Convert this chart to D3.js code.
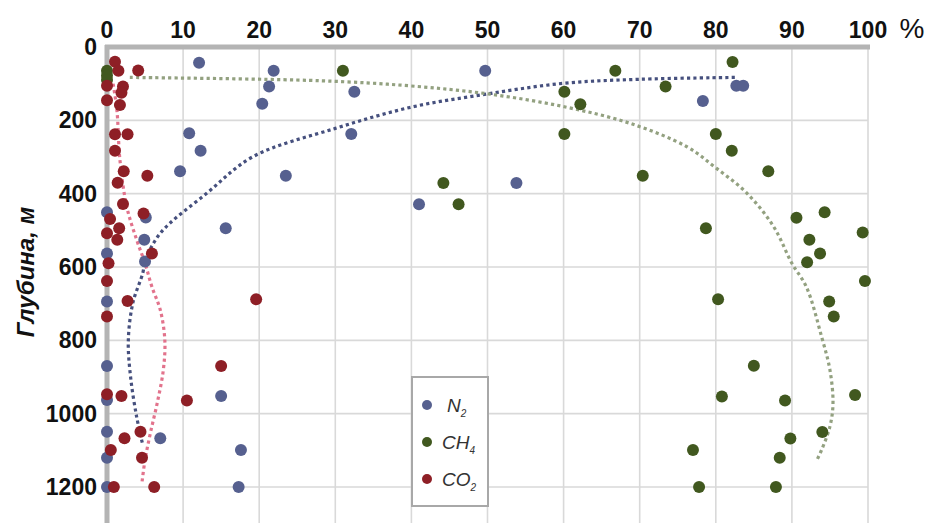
<!DOCTYPE html>
<head>
  <meta charset="utf-8">
  <script src="https://d3js.org/d3.v7.min.js"></script>
  <style>
    body { margin:0; padding:0; background:#fff; }
    text { font-family: "Liberation Sans", Arial, sans-serif; }
  </style>
</head>
<body>
  <svg id="chart" width="941" height="523"></svg>
  <script>
    // depth in m, gas share in %
    var xTicks = [0, 10, 20, 30, 40, 50, 60, 70, 80, 90, 100];
    var yTicks = [0, 200, 400, 600, 800, 1000, 1200];

    var n2Pct = [12.1, 21.9, 21.3, 20.4, 10.8, 12.3, 9.6, 23.5, 15.6, 0, 5.1, 4.9, 0, 5.0,
                 0, 0, 15.0, 0, 0, 7.0, 17.6, 0, 17.3, 0,
                 32.5, 32.1, 49.7, 53.8, 41.0, 78.3, 82.7, 83.6];
    var n2Depth = [43, 65, 108, 155, 235, 283, 339, 351, 494, 451, 465, 526, 563, 585,
                   694, 870, 952, 963, 1049, 1067, 1099, 1120, 1200, 1200,
                   122, 237, 65, 371, 429, 147, 106, 106];

    var ch4Pct = [0, 0, 0, 31.0, 60.1, 62.2, 60.1, 44.2, 46.2, 66.8,
                  82.2, 73.4, 80.0, 82.1, 70.4, 86.9, 78.7, 90.6, 94.3, 99.3, 92.3, 93.7, 92.0,
                  99.6, 80.3, 94.9, 95.5, 85.0, 80.8, 89.1, 98.3, 94.0, 89.8, 77.0, 88.4, 77.8, 87.9];
    var ch4Depth = [65, 78, 90, 65, 122, 156, 237, 371, 429, 65,
                    41, 108, 237, 283, 351, 339, 494, 466, 451, 506, 526, 563, 587,
                    638, 688, 694, 735, 869, 953, 964, 949, 1050, 1068, 1099, 1120, 1200, 1200];

    var co2Pct = [1.05, 1.5, 4.1, 0, 2.1, 1.9, 0, 1.7, 1.05, 2.7, 1.05, 2.2, 5.3, 1.4, 2.1, 4.8,
                  0.4, 0, 1.6, 1.35, 5.9, 0.2, 0, 2.7, 19.6, 0, 15.0, 0, 1.9, 10.5,
                  4.4, 2.3, 0.5, 4.6, 0.9, 6.2];
    var co2Depth = [40, 65, 64, 106, 108, 125, 145, 158, 238, 238, 283, 339, 351, 370, 428, 454,
                    469, 508, 494, 526, 563, 590, 638, 693, 688, 735, 870, 947, 952, 964,
                    1049, 1067, 1099, 1120, 1200, 1200];

    // trend lines
    var n2TrendPct = [82.5, 70, 60, 50, 40, 30, 19.2, 13.1, 7.0, 5.0, 4.7, 3.4, 2.8, 3.1, 3.9, 4.7];
    var n2TrendDepth = [83, 88, 99, 128, 164, 222, 299, 399, 508, 585, 617, 698, 800, 900, 1009, 1085];

    var ch4TrendPct = [3.0, 28, 39.8, 50.1, 60.1, 68.7, 76.2, 80.1, 84.1, 87.6, 90, 91.9, 93.9, 95, 95.4, 95, 93.9, 93.3];
    var ch4TrendDepth = [83, 92, 106, 128, 163, 208, 272, 331, 399, 490, 590, 654, 790, 881, 972, 1035, 1099, 1126];

    var co2TrendPct = [0.8, 1.3, 1.7, 2.6, 3.9, 5.0, 5.9, 7.0, 7.6, 7.4, 6.6, 5.7, 5.0, 4.6];
    var co2TrendDepth = [100, 172, 308, 436, 526, 590, 654, 717, 800, 881, 971, 1053, 1126, 1187];

    var gases = [
      { name: "N", sub: "2", pct: n2Pct, depth: n2Depth, color: "#56608f",
        tPct: n2TrendPct, tDepth: n2TrendDepth, tColor: "#46507e" },
      { name: "CH", sub: "4", pct: ch4Pct, depth: ch4Depth, color: "#41581f",
        tPct: ch4TrendPct, tDepth: ch4TrendDepth, tColor: "#93a180" },
      { name: "CO", sub: "2", pct: co2Pct, depth: co2Depth, color: "#8e1f26",
        tPct: co2TrendPct, tDepth: co2TrendDepth, tColor: "#e2738c" }
    ];

    var svg = d3.select("#chart");
    var x = d3.scaleLinear().domain([0, 100]).range([107, 868]);
    var y = d3.scaleLinear().domain([0, 1200]).range([47, 487]);
    var yBottom = 524;

    // grid
    svg.append("g").selectAll("line").data(xTicks.slice(1)).join("line")
      .attr("x1", d => x(d)).attr("x2", d => x(d))
      .attr("y1", y(0)).attr("y2", yBottom)
      .attr("stroke", "#d9d9d9").attr("stroke-width", 1.6);
    svg.append("g").selectAll("line").data(yTicks.slice(1)).join("line")
      .attr("x1", x(0)).attr("x2", x(100))
      .attr("y1", d => y(d)).attr("y2", d => y(d))
      .attr("stroke", "#d9d9d9").attr("stroke-width", 1.6);

    // main axes (thick grey)
    svg.append("line").attr("x1", x(0) - 2).attr("x2", x(100) + 2)
      .attr("y1", y(0)).attr("y2", y(0))
      .attr("stroke", "#b4b4b4").attr("stroke-width", 5);
    svg.append("line").attr("x1", x(0)).attr("x2", x(0))
      .attr("y1", y(0) - 2).attr("y2", yBottom)
      .attr("stroke", "#b4b4b4").attr("stroke-width", 5);

    // tick labels
    svg.append("g").selectAll("text").data(xTicks).join("text")
      .attr("x", d => x(d)).attr("y", 38)
      .attr("text-anchor", "middle")
      .attr("font-size", 23).attr("font-weight", "bold").attr("fill", "#111")
      .text(d => d);
    svg.append("text").attr("x", 912).attr("y", 38)
      .attr("text-anchor", "middle").attr("font-size", 28).attr("fill", "#111")
      .text("%");
    svg.append("g").selectAll("text").data(yTicks).join("text")
      .attr("x", 97).attr("y", d => y(d) + 8)
      .attr("text-anchor", "end")
      .attr("font-size", 23).attr("font-weight", "bold").attr("fill", "#111")
      .text(d => d);

    svg.append("text")
      .attr("transform", "translate(34,272) rotate(-90)")
      .attr("text-anchor", "middle")
      .attr("font-size", 24).attr("font-weight", "bold").attr("font-style", "italic")
      .attr("fill", "#111")
      .text("Глубина, м");

    // trend lines
    var line = d3.line().curve(d3.curveCatmullRom.alpha(0.5));
    gases.forEach(function(g) {
      var pts = g.tPct.map((p, i) => [x(p), y(g.tDepth[i])]);
      svg.append("path").attr("d", line(pts))
        .attr("fill", "none").attr("stroke", g.tColor)
        .attr("stroke-width", 3.2).attr("stroke-dasharray", "3.2 3.2");
    });

    // points
    gases.forEach(function(g) {
      svg.append("g").selectAll("circle").data(g.pct).join("circle")
        .attr("cx", d => x(d)).attr("cy", (d, i) => y(g.depth[i]))
        .attr("r", 6).attr("fill", g.color);
    });

    // legend
    var lg = svg.append("g").attr("transform", "translate(412,377)");
    lg.append("rect").attr("width", 76).attr("height", 129)
      .attr("fill", "#fff").attr("stroke", "#a8a8a8").attr("stroke-width", 2);
    gases.forEach(function(g, i) {
      var cy = 28 + i * 37;
      lg.append("circle").attr("cx", 15).attr("cy", cy).attr("r", 5).attr("fill", g.color);
      var t = lg.append("text").attr("x", i === 0 ? 35 : 30).attr("y", cy + 7)
        .attr("font-size", 19).attr("font-style", "italic").attr("fill", "#333");
      t.append("tspan").text(g.name);
      t.append("tspan").attr("font-size", 10).attr("dy", 5).text(g.sub);
    });
  </script>
</body>
